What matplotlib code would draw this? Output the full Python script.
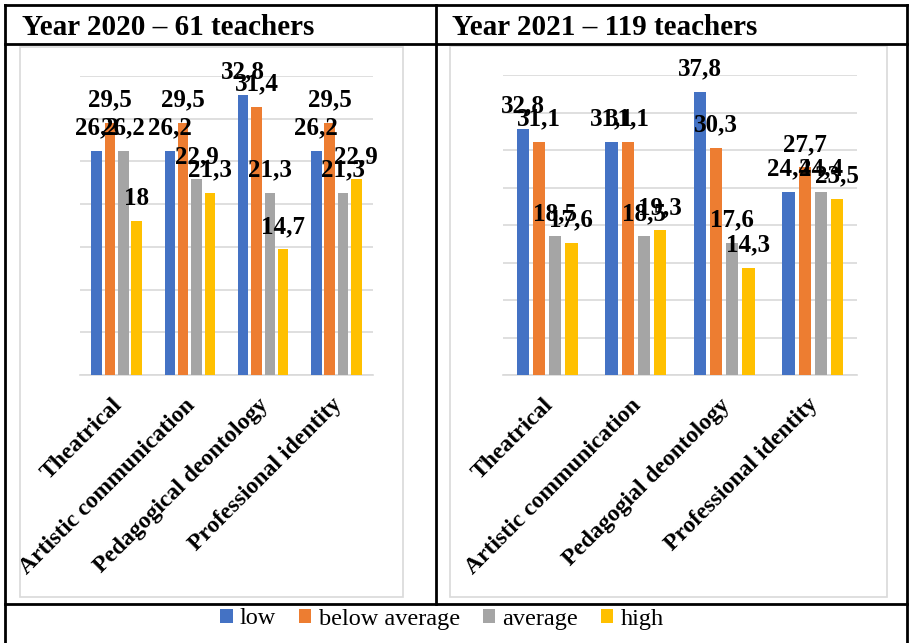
import numpy as np
import matplotlib.pyplot as plt
from matplotlib.lines import Line2D
from matplotlib.patches import Rectangle, Patch
from matplotlib.transforms import ScaledTranslation

plt.rcParams['font.family'] = ['Liberation Serif', 'DejaVu Serif']

# Survey results, % of teachers per level
levels = ["low", "below average", "average", "high"]
colors = ["#4472C4", "#ED7D31", "#A5A5A5", "#FFC000"]

cats_2020 = ["Theatrical", "Artistic communication", "Pedagogical deontology", "Professional identity"]
low_2020 = [26.2, 26.2, 32.8, 26.2]
below_2020 = [29.5, 29.5, 31.4, 29.5]
avg_2020 = [26.2, 22.9, 21.3, 21.3]
high_2020 = [18.0, 21.3, 14.7, 22.9]

cats_2021 = ["Theatrical", "Artistic communication", "Pedagogial deontology", "Professional identity"]
low_2021 = [32.8, 31.1, 37.8, 24.4]
below_2021 = [31.1, 31.1, 30.3, 27.7]
avg_2021 = [18.5, 18.5, 17.6, 24.4]
high_2021 = [17.6, 19.3, 14.3, 23.5]

W, H = 912, 643
fig = plt.figure(figsize=(W / 100, H / 100), dpi=100)


def fx(px):
    return px / W


def fy(py):
    return 1 - py / H


def bar_panel(rect, cats, series, ymax, bw):
    ax = fig.add_axes(rect)
    x = np.arange(len(cats))
    pitch = 0.182
    for i, (vals, c) in enumerate(zip(series, colors)):
        pos = x + (i - 1.5) * pitch
        bars = ax.bar(pos, vals, width=bw, color=c, zorder=3)
        for b, v in zip(bars, vals):
            ax.annotate(f"{v:g}".replace(".", ","),
                        (b.get_x() + b.get_width() / 2, v),
                        xytext=(0, 16.5), textcoords="offset points",
                        ha="center", va="center", fontsize=18,
                        fontweight="bold", zorder=5)
    ax.set_xlim(-0.5, len(cats) - 0.5)
    ax.set_ylim(0, ymax)
    ax.set_yticks(np.arange(0, ymax + 0.1, 5))
    ax.yaxis.grid(True, color="#D9D9D9", linewidth=1.2, zorder=0)
    ax.set_yticklabels([])
    ax.tick_params(length=0)
    for s in ["top", "right", "left"]:
        ax.spines[s].set_visible(False)
    ax.spines["bottom"].set_color("#D9D9D9")
    ax.spines["bottom"].set_linewidth(1.2)
    ax.set_xticks(x)
    ax.set_xticklabels(cats, rotation=45, ha="right", va="top",
                       rotation_mode="anchor", fontsize=17, fontweight="bold")
    ax.tick_params(axis="x", pad=14)
    shift = ScaledTranslation(-0.05, 0, fig.dpi_scale_trans)
    for lab in ax.get_xticklabels():
        lab.set_transform(lab.get_transform() + shift)
    ax.set_facecolor("none")
    return ax


# chart frames
fig.patches.append(Rectangle((fx(20), fy(597)), fx(383), 550 / H, transform=fig.transFigure,
                             fill=False, edgecolor="#D9D9D9", linewidth=1.2))
fig.patches.append(Rectangle((fx(450), fy(597)), fx(437), 551 / H, transform=fig.transFigure,
                             fill=False, edgecolor="#D9D9D9", linewidth=1.2))

bar_panel([fx(80), fy(375), fx(293), (375 - 76) / H], cats_2020,
          [low_2020, below_2020, avg_2020, high_2020], 35, 0.143)
bar_panel([fx(503), fy(375), fx(354), (375 - 75) / H], cats_2021,
          [low_2021, below_2021, avg_2021, high_2021], 40, 0.139)

# table lines
lw = 2
for (x0, y0, x1, y1) in [(5, 5, 907, 5), (5, 44, 907, 44), (5, 604, 907, 604),
                         (5, 5, 5, 643), (907, 5, 907, 643), (436, 5, 436, 604)]:
    fig.add_artist(Line2D([fx(x0), fx(x1)], [fy(y0), fy(y1)], color="black",
                          linewidth=lw, transform=fig.transFigure))

fig.text(fx(22), fy(35), "Year 2020 \u2013 61 teachers", fontsize=21,
         fontweight="bold", va="baseline", ha="left")
fig.text(fx(452), fy(35), "Year 2021 \u2013 119 teachers", fontsize=21,
         fontweight="bold", va="baseline", ha="left")

handles = [Patch(facecolor=c, label=l) for c, l in zip(colors, levels)]
fig.legend(handles=handles, loc="center", bbox_to_anchor=(fx(442), fy(619)),
           ncol=4, frameon=False, fontsize=17.5, handlelength=0.5,
           handleheight=0.5, handletextpad=0.3, columnspacing=0.95)

fig.savefig("out.png", dpi=100)
